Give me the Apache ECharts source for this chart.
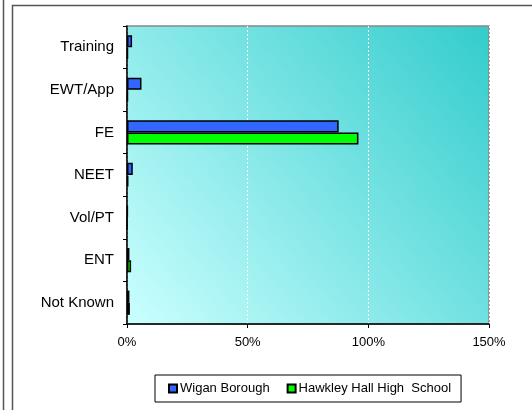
<!DOCTYPE html>
<html>
<head>
<meta charset="utf-8">
<script src="https://cdn.jsdelivr.net/npm/echarts@6/dist/echarts.min.js"></script>
<style>
html,body{margin:0;padding:0;background:#fff;}
#chart{width:532px;height:410px;}
</style>
</head>
<body>
<div id="chart"></div>
<script>
const categories = ['Training', 'EWT/App', 'FE', 'NEET', 'Vol/PT', 'ENT', 'Not Known'];
const wiganBorough = [2.1, 6.0, 87.7, 2.4, 0.3, 1.0, 1.0];
const hawkleyHall = [0.4, 0.4, 95.9, 0.6, 0.0, 1.7, 1.2];
const seriesNames = ['Wigan Borough', 'Hawkley Hall High  School'];
const xTicks = { min: 0, max: 150, interval: 50 };

const chart = echarts.init(document.getElementById('chart'), null, { renderer: 'canvas' });
const font = 'Arial, "Liberation Sans", sans-serif';
chart.setOption({
  animation: false,
  graphic: [
    { type: 'line', shape: { x1: 3.5, y1: 0, x2: 3.5, y2: 410 }, style: { stroke: '#555', lineWidth: 1.5 } },
    { type: 'rect', shape: { x: 12.5, y: 5.5, width: 540, height: 420 }, style: { fill: 'none', stroke: '#555', lineWidth: 1.5 } }
  ],
  grid: {
    left: 127, top: 26, right: 43, bottom: 86,
    show: true,
    borderColor: '#888',
    borderWidth: 1.5,
    backgroundColor: new echarts.graphic.LinearGradient(0, 1, 1, 0, [
      { offset: 0, color: '#CCFFFF' },
      { offset: 1, color: '#33CCCC' }
    ])
  },
  legend: {
    left: 155, top: 375,
    padding: [7, 10, 7, 13],
    borderColor: '#000', borderWidth: 1,
    itemWidth: 8, itemHeight: 8, itemGap: 17,
    icon: 'rect',
    textStyle: { fontFamily: font, fontSize: 13, color: '#000', padding: [0, 0, 0, -2] },
    data: seriesNames
  },
  xAxis: {
    type: 'value',
    min: xTicks.min, max: xTicks.max, interval: xTicks.interval,
    axisLine: { show: true, lineStyle: { color: '#000', width: 1.5 } },
    axisTick: { show: true, length: 4, lineStyle: { color: '#000' } },
    axisLabel: { formatter: '{value}%', fontFamily: font, fontSize: 13, color: '#000', margin: 12 },
    splitLine: { show: true, lineStyle: { color: '#fff', type: [2, 2], width: 1 } }
  },
  yAxis: {
    type: 'category',
    inverse: true,
    data: categories,
    axisLine: { show: true, lineStyle: { color: '#000', width: 1.5 } },
    axisTick: { show: true, length: 4, lineStyle: { color: '#000' } },
    axisLabel: { fontFamily: font, fontSize: 15, color: '#000', margin: 13 },
    splitLine: { show: false }
  },
  series: [
    {
      name: seriesNames[0], type: 'bar', data: wiganBorough,
      barGap: '0%', barCategoryGap: '43%',
      itemStyle: { color: '#3366FF', borderColor: '#000', borderWidth: 1.5 }
    },
    {
      name: seriesNames[1], type: 'bar', data: hawkleyHall,
      barGap: '0%', barCategoryGap: '43%',
      itemStyle: { color: '#00FF00', borderColor: '#000', borderWidth: 1.5 }
    }
  ]
});
</script>
</body>
</html>
